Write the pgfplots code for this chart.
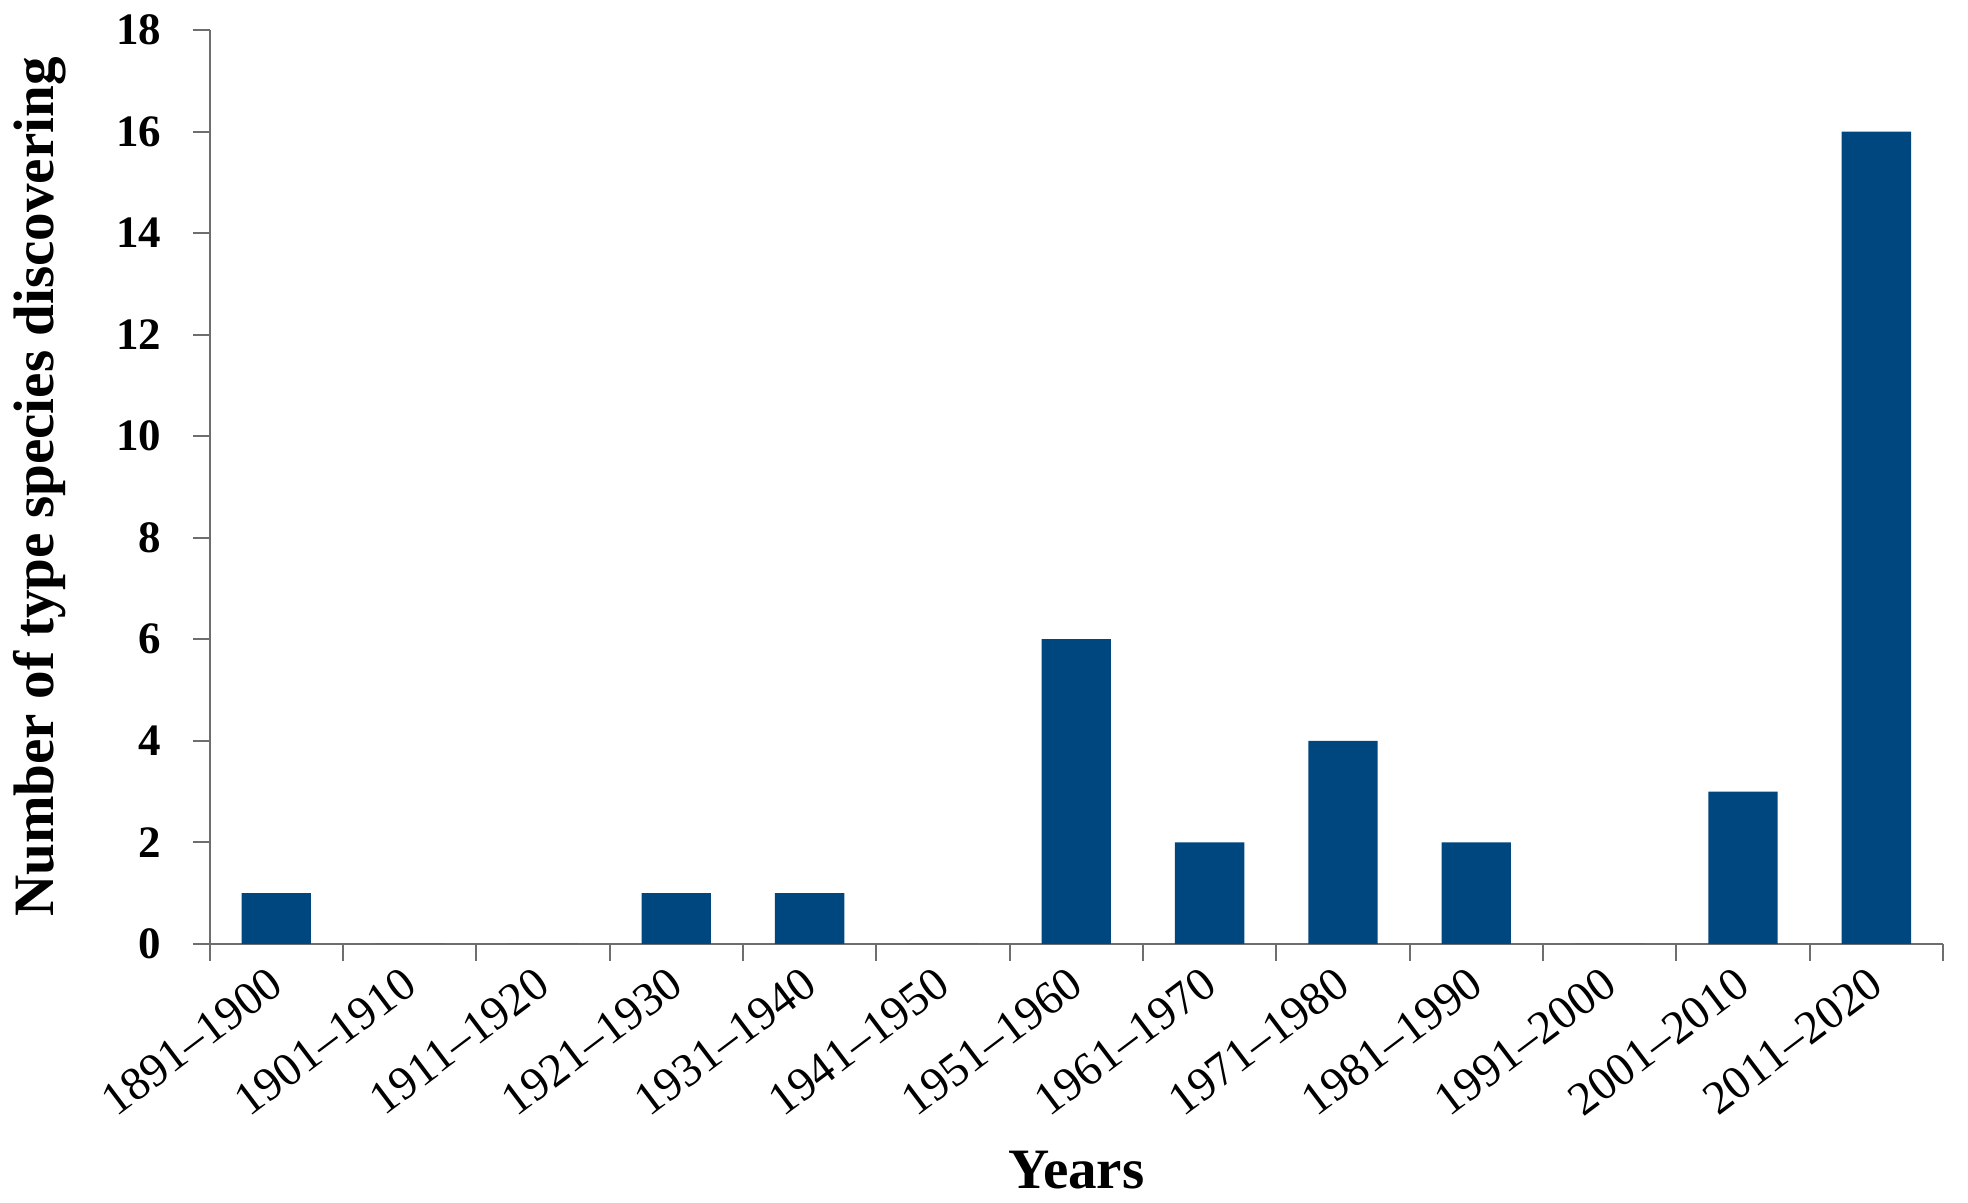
\documentclass[border=0pt]{standalone}
\usepackage{fontspec}
\setmainfont{Liberation Serif}
\usepackage{pgfplots}
\pgfplotsset{compat=1.18}
\definecolor{barblue}{RGB}{0,70,127}
\definecolor{axgray}{RGB}{110,110,110}
\begin{document}
\begin{tikzpicture}
\begin{axis}[
  scale only axis,
  width=17.611cm, height=9.283cm,
  xmin=-0.5, xmax=12.5,
  ymin=0, ymax=18,
  axis x line*=bottom,
  axis y line*=left,
  axis line style={axgray, line width=0.6pt},
  every tick/.style={axgray, line width=0.6pt},
  tick align=outside,
  major tick length=0.17cm,
  minor tick length=0.17cm,
  xtick={0,...,12},
  xticklabels={1891--1900,1901--1910,1911--1920,1921--1930,1931--1940,1941--1950,1951--1960,1961--1970,1971--1980,1981--1990,1991--2000,2001--2010,2011--2020},
  minor xtick={-0.5,0.5,...,12.5},
  x tick style={draw=none},
  minor x tick style={draw=axgray, line width=0.6pt},
  xticklabel style={xshift=0.1cm, rotate=37, anchor=east, font=\fontsize{13.6}{16}\selectfont},
  xticklabel shift=0.1cm,
  ytick={0,2,...,18},
  yticklabel style={font=\bfseries\fontsize{13}{15}\selectfont},
  yticklabel shift=0.2cm,
  /pgf/number format/assume math mode=true,
  ylabel={Number of type species discovering},
  ylabel style={at={(axis description cs:-0.1137,0.5)}, anchor=north, inner sep=0pt, font=\bfseries\fontsize{16.5}{18}\selectfont},
  xlabel={Years},
  xlabel style={at={(axis description cs:0.5,-0.268)}, anchor=base, font=\bfseries\fontsize{16.5}{18}\selectfont},
  clip=false,
]
\addplot[ybar, bar width=0.52, fill=barblue, draw=none] coordinates {
(0,1) (1,0) (2,0) (3,1) (4,1) (5,0) (6,6) (7,2) (8,4) (9,2) (10,0) (11,3) (12,16)
};
\end{axis}
\pgfresetboundingbox
\path (-2.130,-2.633) rectangle (17.865,9.589);
\end{tikzpicture}
\end{document}
